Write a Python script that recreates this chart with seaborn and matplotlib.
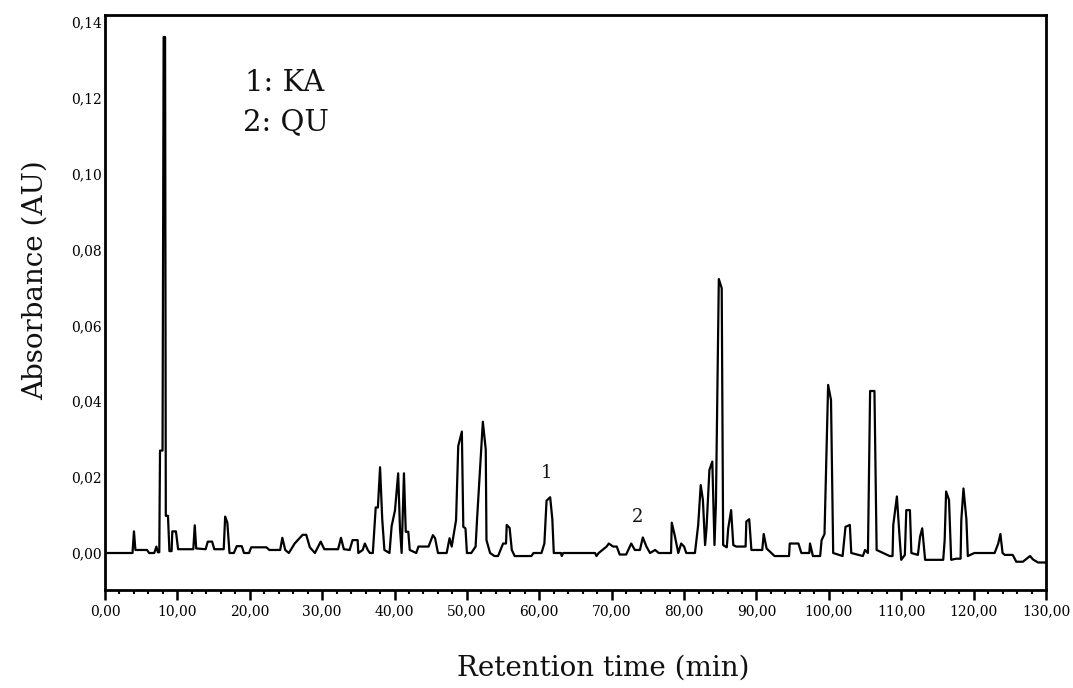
import matplotlib
matplotlib.use("Agg")
import matplotlib.pyplot as plt
import seaborn as sns
import pandas as pd
from matplotlib.ticker import MultipleLocator

# ---- data (retention time in min, absorbance in AU) ----
time_min = [
    0.0, 3.8, 4.0, 4.2, 5.8, 6.1, 6.8, 7.1, 7.3, 7.5, 7.6, 7.95, 8.1, 8.3, 8.4, 8.7,
    8.9, 9.2, 9.3, 9.8, 10.1, 12.2, 12.4, 12.6, 13.9, 14.2, 14.8, 15.1, 16.4, 16.6,
    16.9, 17.2, 17.8, 18.2, 18.9, 19.2, 19.9, 20.2, 22.3, 22.7, 24.2, 24.5, 24.9,
    25.4, 26.2, 27.3, 27.8, 28.3, 29.0, 29.8, 30.3, 32.2, 32.6, 33.0, 33.8,
    34.2, 34.9, 35.0, 35.6, 35.9, 36.3, 36.6, 37.0, 37.4, 37.7, 38.0, 38.3, 38.6,
    39.3, 39.6, 40.06, 40.5, 40.75, 40.98, 41.3, 41.55, 41.9, 42.1, 43.0, 43.3,
    44.7, 45.3, 45.6, 46.0, 47.2, 47.6, 47.9, 48.5, 48.8, 49.3, 49.5, 49.8, 50.0,
    50.6, 51.2, 51.4, 51.8, 52.2, 52.6, 52.7, 53.2, 53.8, 54.3, 55.0, 55.4, 55.5, 55.9,
    56.2, 56.6, 58.9, 59.2, 60.3, 60.7, 61.0, 61.5, 61.8, 62.0, 63.0, 63.1, 63.3,
    67.7, 67.9, 68.2, 69.3, 69.6, 70.2, 70.7, 71.1, 72.0, 72.7, 73.2, 73.9, 74.3,
    74.8, 75.3, 76.0, 76.5, 78.2, 78.3, 78.7, 79.2, 79.6, 80.0, 80.3, 81.5, 81.7,
    81.95, 82.3, 82.6, 82.9, 83.1, 83.5, 83.9, 84.2, 84.4, 84.8, 85.2, 85.4, 85.9,
    86.1, 86.5, 86.8, 87.2, 88.5, 88.6, 89.0, 89.3, 90.8, 91.0, 91.4, 92.5, 94.5,
    94.6, 95.8, 96.2, 97.3, 97.4, 97.8, 98.8, 99.0, 99.4, 99.9, 100.3, 100.6, 101.9,
    102.3, 102.9, 103.1, 104.7, 105.0, 105.4, 105.7, 106.3, 106.6, 108.4, 108.8, 108.9,
    109.4, 109.8, 110.0, 110.5, 110.7, 111.2, 111.4, 112.3, 112.6, 112.9, 113.3,
    115.8, 116.0, 116.2, 116.6, 116.9, 117.6, 118.2, 118.3, 118.6, 119.0, 119.2, 120.1,
    122.9, 123.4, 123.7, 124.0, 124.3, 125.4, 125.9, 126.8, 127.8, 128.2, 128.9,
    130.0,
]
absorbance = [
    0.0, 0.0, 0.0057, 0.0008, 0.0008, 0.0, 0.0, 0.0017, 0.0002, 0.0002, 0.027, 0.027,
    0.136, 0.136, 0.0098, 0.0098, 0.0005, 0.0005, 0.0057, 0.0057, 0.001, 0.001, 0.0073,
    0.0012, 0.001, 0.003, 0.003, 0.001, 0.001, 0.0096, 0.008, 0.0, 0.0, 0.0018, 0.0018,
    0.0, 0.0, 0.0015, 0.0015, 0.0008, 0.0008, 0.004, 0.0008, 0.0, 0.0025, 0.0048,
    0.0048, 0.0015, 0.0, 0.003, 0.001, 0.001, 0.004, 0.001, 0.0008,
    0.0034, 0.0034, 0.0, 0.0008, 0.0025, 0.0008, 0.0, 0.0, 0.012, 0.012, 0.0226, 0.0089,
    0.0008, 0.0, 0.0071, 0.0112, 0.021, 0.0065, 0.0, 0.021, 0.0056, 0.0056, 0.0008,
    0.0, 0.0017, 0.0017, 0.0047, 0.0039, 0.0, 0.0, 0.0039, 0.0017, 0.0087, 0.0282,
    0.032, 0.0069, 0.0065, 0.0, 0.0, 0.0017, 0.0089, 0.0219, 0.0346, 0.0273, 0.0034,
    0.0, -0.0008, -0.0008, 0.0025, 0.0025, 0.0074, 0.0066, 0.0008, -0.0008, -0.0008, 0.0, 0.0,
    0.0025, 0.0138, 0.0147, 0.0089, 0.0, 0.0, -0.0008, 0.0, 0.0, -0.0008, 0.0, 0.0017,
    0.0025, 0.0017, 0.0017, -0.0004, -0.0004, 0.0025, 0.0008, 0.0008, 0.0041, 0.0017,
    0.0, 0.0008, 0.0, 0.0, 0.008, 0.0047, 0.0, 0.0025, 0.0017, 0.0, 0.0, 0.0034,
    0.0074, 0.0179, 0.014, 0.0021, 0.0065, 0.0219, 0.0241, 0.0021, 0.0131, 0.0722,
    0.0698, 0.0021, 0.0015, 0.0065, 0.0113, 0.0021, 0.0017, 0.0017, 0.0083, 0.0089,
    0.0008, 0.0008, 0.005, 0.0012, -0.0008, -0.0008, 0.0025, 0.0025, 0.0, 0.0, 0.0025,
    -0.0008, -0.0008, 0.0034, 0.005, 0.0443, 0.0403, 0.0, -0.0008, 0.0069, 0.0074, 0.0,
    -0.0008, 0.0008, 0.0, 0.0427, 0.0427, 0.0008, -0.0008, -0.0008, 0.0074, 0.0149, 0.0034,
    -0.0018, -0.0005, 0.0113, 0.0113, 0.0, -0.0005, 0.0043, 0.0065, -0.0018, -0.0018,
    0.0034, 0.0162, 0.014, -0.0018, -0.0015, -0.0015, 0.0087, 0.017, 0.0089, -0.0008, 0.0, 0.0,
    0.0025, 0.005, 0.0, -0.0005, -0.0005, -0.0023, -0.0023, -0.0008, -0.0017, -0.0025,
    -0.0025,
]

x_ticks = [0, 10, 20, 30, 40, 50, 60, 70, 80, 90, 100, 110, 120, 130]
x_tick_labels = ["0,00", "10,00", "20,00", "30,00", "40,00", "50,00", "60,00",
                 "70,00", "80,00", "90,00", "100,00", "110,00", "120,00", "130,00"]
y_ticks = [0.0, 0.02, 0.04, 0.06, 0.08, 0.10, 0.12, 0.14]
y_tick_labels = ["0,00", "0,02", "0,04", "0,06", "0,08", "0,10", "0,12", "0,14"]

legend_lines = ["1: KA", "2: QU"]
peak_labels = ["1", "2"]
peak_label_time = [61.05, 73.6]
peak_label_abs = [0.0211, 0.0095]

df = pd.DataFrame({"time": time_min, "abs": absorbance})

sns.set_theme(style="white")
plt.rcParams["font.family"] = ["DejaVu Serif", "DejaVu Sans"]

fig = plt.figure(figsize=(10.73, 6.88), dpi=100)
ax = fig.add_axes([105 / 1073, (688 - 590) / 688, (1046 - 105) / 1073, (590 - 15) / 688])

sns.lineplot(data=df, x="time", y="abs", sort=False, estimator=None,
             color="black", linewidth=1.6, ax=ax)

ax.set_xlim(0, 130)
ax.set_ylim(-0.00975, 0.1418)
ax.set_xticks(x_ticks)
ax.set_xticklabels(x_tick_labels, fontsize=10)
ax.xaxis.set_minor_locator(MultipleLocator(2))
ax.set_yticks(y_ticks)
ax.set_yticklabels(y_tick_labels, fontsize=10)

ax.tick_params(axis="x", which="major", direction="out", length=7, width=1.8,
               pad=3, bottom=True, colors="black")
ax.tick_params(axis="x", which="minor", direction="out", length=3, width=1.5,
               bottom=True, colors="black")
ax.tick_params(axis="y", which="both", length=0, pad=2, colors="black")

for s in ax.spines.values():
    s.set_color("black")
    s.set_linewidth(2.0)

ax.set_xlabel("Retention time (min)", fontsize=20, color="#111111")
ax.xaxis.set_label_coords(0.529, -0.112)
ax.set_ylabel("Absorbance (AU)", fontsize=20, color="#111111")
ax.yaxis.set_label_coords(-0.060, 0.539)

ax.text(0.149, 0.882, legend_lines[0], transform=ax.transAxes, fontsize=21,
        va="center", ha="left", color="#111111")
ax.text(0.147, 0.814, legend_lines[1], transform=ax.transAxes, fontsize=21,
        va="center", ha="left", color="#111111")

for lab, tx, ty in zip(peak_labels, peak_label_time, peak_label_abs):
    ax.text(tx, ty, lab, fontsize=13, ha="center", va="center", color="#111111")

fig.savefig("out.png", dpi=100)
